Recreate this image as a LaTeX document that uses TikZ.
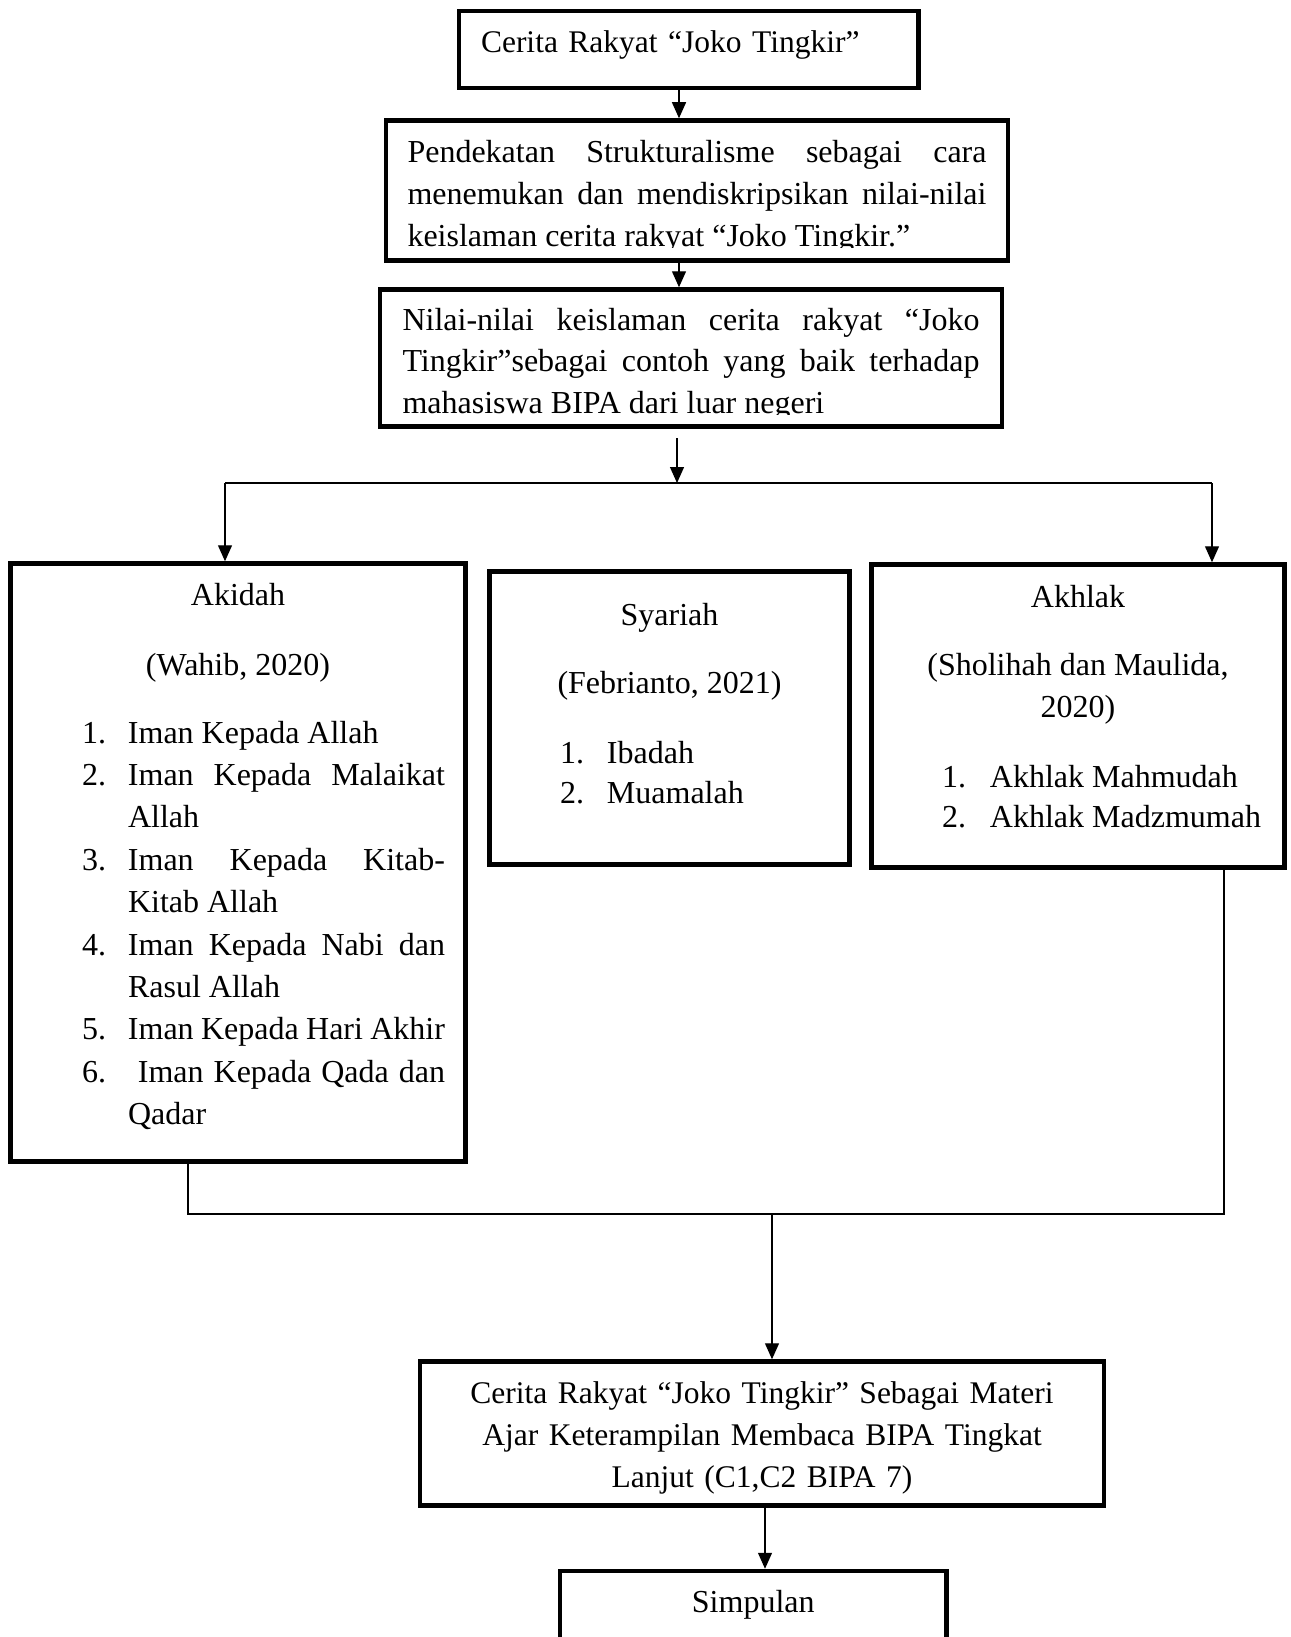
\documentclass[tikz,border=0pt]{standalone}
\usepackage{fontspec}
\setmainfont{Liberation Serif}
\usetikzlibrary{arrows.meta}
\tolerance=10000
\hyphenpenalty=10000
\newcommand{\butir}[3]{\noindent\hangindent=#1\hangafter=1\makebox[#1][l]{#2}#3\par}
\tikzset{
  kotak/.style={draw, line width=4.5pt, anchor=base, inner ysep=0pt, align=justify},
  panah/.style={line width=1.3pt, -{Triangle[length=16pt,width=14pt]}},
  garis/.style={line width=1.6pt}
}
\begin{document}
\begin{tikzpicture}[x=1pt, y=-1pt, font=\fontsize{32}{42.4}\selectfont]
      \useasboundingbox (0,0) rectangle (1290,1637);
      \clip (0,0) rectangle (1290,1637);
      \draw
        (688.75,53) node[kotak, align=left, font=\fontsize{31.5}{42.4}\selectfont,
          text width=415.5pt, inner xsep=22pt,
          text height=42pt, text depth=35pt] (judul)
          {Cerita Rakyat “Joko Tingkir”}
        (697,163) node[kotak, font=\fontsize{32}{41.7}\selectfont, text width=579pt,
          inner xsep=21.5pt, text height=42.5pt, text depth=97.5pt] (pendekatan)
          {Pendekatan Strukturalisme sebagai cara\linebreak
           menemukan dan mendiskripsikan nilai-nilai\linebreak
           keislaman cerita rakyat “Joko Tingkir.”}
        (691,330) node[kotak, font=\fontsize{32}{41.7}\selectfont, text width=577pt,
          inner xsep=22.5pt, text height=40.5pt, text depth=96.5pt] (nilai)
          {Nilai-nilai keislaman cerita rakyat “Joko\linebreak
           Tingkir”sebagai contoh yang baik terhadap\linebreak
           mahasiswa BIPA dari luar negeri}
        (238,605) node[kotak, text width=435pt, inner xsep=10pt,
          text height=41.5pt, text depth=556.5pt] (akidah)
          {{\centering Akidah\par}\vspace{27.6pt}
           {\centering (Wahib, 2020)\par}\vspace{25.6pt}
           {\leftskip=61.5pt \rightskip=10.5pt
            \butir{46pt}{1.}{Iman Kepada Allah}
            \butir{46pt}{2.}{Iman Kepada Malaikat\linebreak Allah}
            \butir{46pt}{3.}{Iman Kepada Kitab-\linebreak Kitab Allah}
            \butir{46pt}{4.}{Iman Kepada Nabi dan\linebreak Rasul Allah}
            \butir{46pt}{5.}{Iman Kepada Hari Akhir}
            \butir{46pt}{6.}{\ Iman Kepada Qada dan\linebreak Qadar}}}
        (669.5,625) node[kotak, text width=340pt, inner xsep=10pt,
          text height=53.5pt, text depth=239.5pt] (syariah)
          {{\centering Syariah\par}\vspace{25.6pt}
           {\centering (Febrianto, 2021)\par}\vspace{30pt}
           {\baselineskip=40pt \leftskip=60.5pt
            \butir{47pt}{1.}{Ibadah}
            \butir{47pt}{2.}{Muamalah}}}
        (1078,607) node[kotak, text width=393pt, inner xsep=10pt,
          text height=42.5pt, text depth=260.5pt] (akhlak)
          {{\centering Akhlak\par}\vspace{25.6pt}
           {\centering (Sholihah dan Maulida,\\2020)\par}\vspace{30pt}
           {\baselineskip=40pt \leftskip=60.5pt
            \butir{48pt}{1.}{Akhlak Mahmudah}
            \butir{48pt}{2.}{Akhlak Madzmumah}}}
        (762,1403) node[kotak, align=center, font=\fontsize{31.5}{42.2}\selectfont,
          text width=664pt, inner xsep=10pt,
          text height=41.5pt, text depth=102.5pt] (materi)
          {Cerita Rakyat “Joko Tingkir” Sebagai Materi\\
           Ajar Keterampilan Membaca BIPA Tingkat\\
           Lanjut (C1,C2 BIPA 7)}
        (753.25,1612) node[kotak, align=center, text width=366.5pt, inner xsep=10pt,
          text height=41pt, text depth=88pt] (simpulan)
          {Simpulan};
      \fill[white] (400,248) rectangle (995,257.5);
      \fill[white] (395,415) rectangle (990,423.5);
      \coordinate (lurus) at (679,100);
      \coordinate (atas) at (677,438);
      \coordinate (cabang) at (677,483);
      \coordinate (kiri) at (225,483);
      \coordinate (kanan) at (1212,483);
      \coordinate (bawahkiri) at (188,1214);
      \coordinate (bawahkanan) at (1224,1214);
      \coordinate (tengah) at (772,1214);
      \coordinate (turun) at (765,1530);
      \begin{scope}[panah]
        \draw (judul.south -| lurus) to (pendekatan.north -| lurus);
        \draw (pendekatan.south -| lurus) to (nilai.north -| lurus);
        \draw (atas) to (cabang);
        \draw (kiri) to (kiri |- akidah.north);
        \draw (kanan) to (kanan |- akhlak.north);
        \draw (tengah) to (tengah |- materi.north);
        \draw (materi.south -| turun) to (simpulan.north -| turun);
      \end{scope}
      \begin{scope}[garis]
        \draw (kiri) to (kanan);
        \draw (akidah.south -| bawahkiri) -- (bawahkiri) -- (bawahkanan) -- (akhlak.south -| bawahkanan);
      \end{scope}
    \end{tikzpicture}
\end{document}
